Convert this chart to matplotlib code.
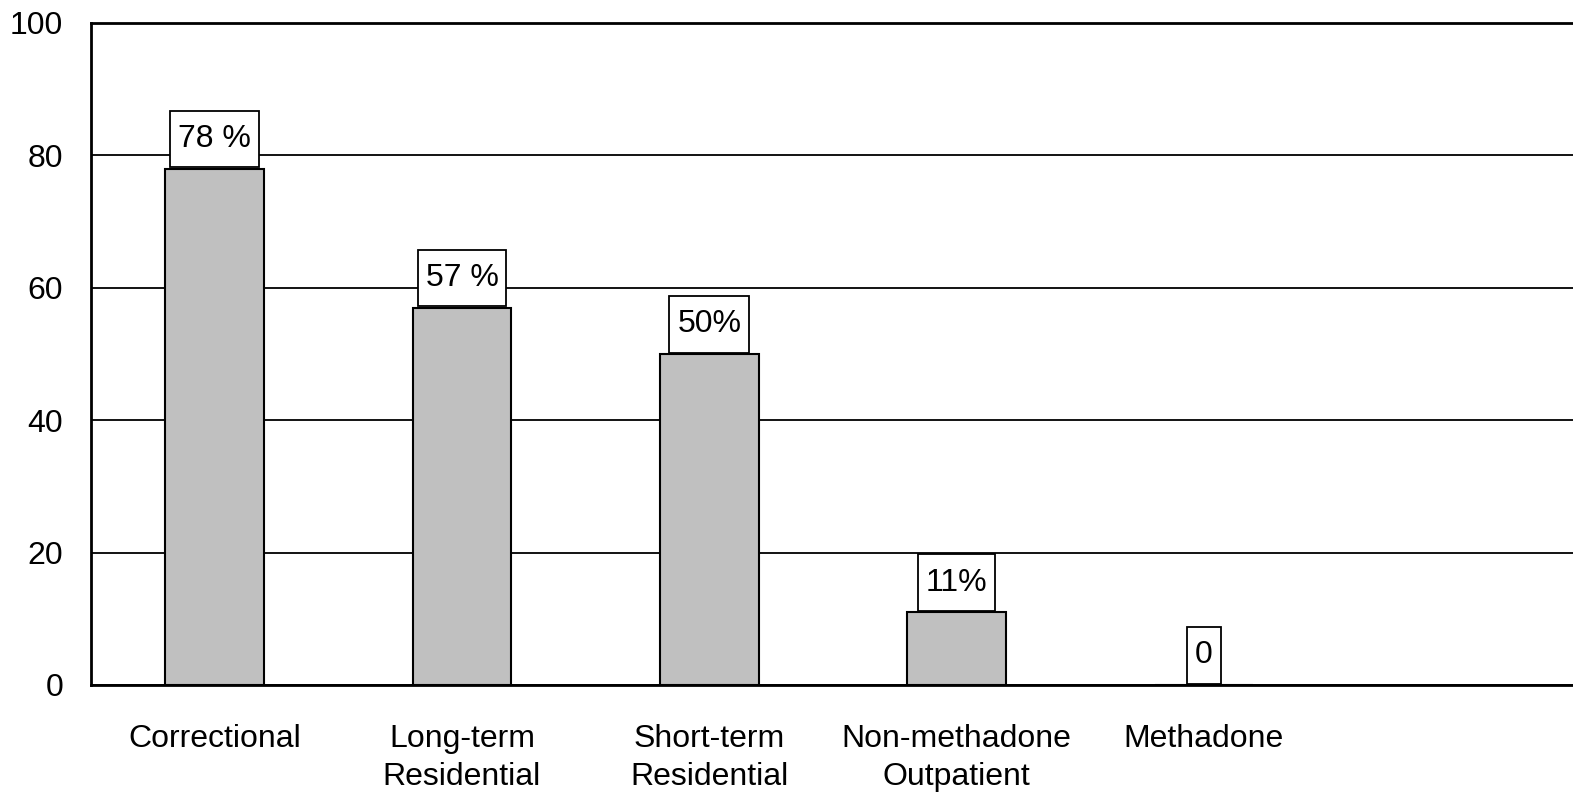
import matplotlib
matplotlib.use("Agg")
import matplotlib.pyplot as plt
from matplotlib.path import Path

categories = ["Correctional", "Long-term\nResidential", "Short-term\nResidential",
              "Non-methadone\nOutpatient", "Methadone"]
values = [78, 57, 50, 11, 0]
value_labels = ["78 %", "57 %", "50%", "11%", "0"]
yticks = [0, 20, 40, 60, 80, 100]

plt.rcParams['font.family'] = ['Liberation Sans', 'DejaVu Sans']

W, H = 1573, 792
fig = plt.figure(figsize=(W / 100, H / 100), dpi=100)
ax = fig.add_axes([91 / W, 1 - 685 / H, (1575 - 91) / W, (685 - 23) / H])


def label_box(x0, y0, width, height, mutation_size):
    px = 0.25 * mutation_size
    py = 0.42 * mutation_size
    x0, y0 = x0 - px, y0 - py
    x1, y1 = x0 + width + 2 * px, y0 + height + 2 * py
    return Path([(x0, y0), (x1, y0), (x1, y1), (x0, y1), (x0, y0)],
                closed=True)


x = list(range(len(categories)))
ax.bar(x, values, width=0.40, color="#c0c0c0", edgecolor="black", linewidth=1.5, zorder=3)

for xi, v, lab in zip(x, values, value_labels):
    ax.annotate(lab, (xi, v), xytext=(0, 10.5), textcoords="offset points",
                ha="center", va="bottom", fontsize=23,
                bbox=dict(boxstyle=label_box, facecolor="white",
                          edgecolor="black", linewidth=1.3), zorder=4)

ax.set_xlim(-0.5, 5.5)
ax.set_ylim(0, 100)
ax.set_yticks(yticks)
ax.set_yticklabels([str(t) for t in yticks], fontsize=23)
ax.set_xticks(x)
ax.set_xticklabels(categories, fontsize=23, linespacing=1.37)
ax.tick_params(axis="both", length=0)
ax.tick_params(axis="y", pad=20)
ax.tick_params(axis="x", pad=28)
ax.yaxis.grid(True, color="black", linewidth=1.3, zorder=0)
ax.set_axisbelow(True)
for s in ["left", "bottom", "top"]:
    ax.spines[s].set_linewidth(2)
    ax.spines[s].set_color("black")
ax.spines["right"].set_visible(False)

fig.savefig("out.png", dpi=100, facecolor="white")
